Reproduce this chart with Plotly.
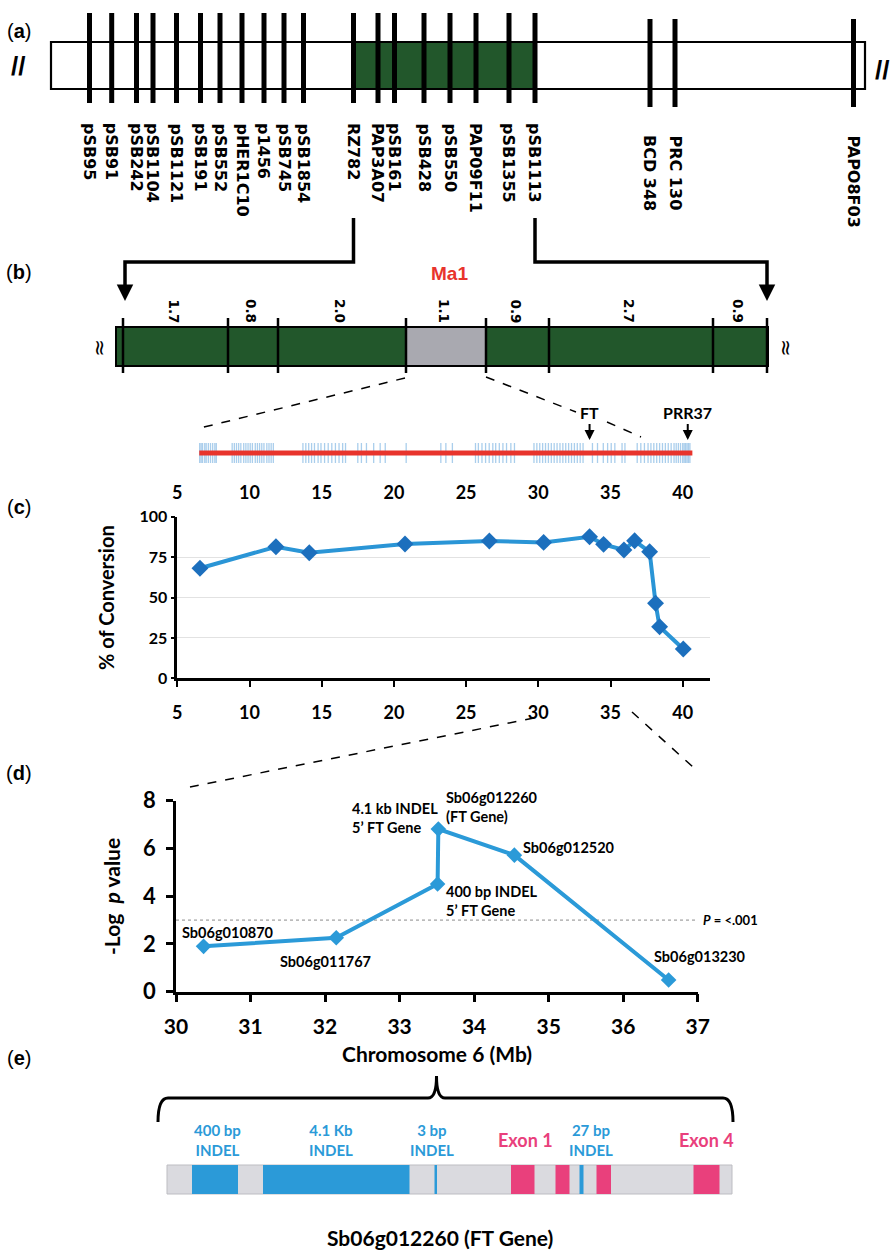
import plotly.graph_objects as go

W, H = 894, 1253

# ---------------- data ----------------
# (a) marker map (positions along the drawn linkage map)
A_MARKERS = ["pSB95", "pSB91", "pSB242", "pSB1104", "pSB1121", "pSB191", "pSB552",
             "pHER1C10", "p1456", "pSB745", "pSB1854", "RZ782", "PAP3A07", "pSB161",
             "pSB428", "pSB550", "PAP09F11", "pSB1355", "pSB1113", "BCD 348", "PRC 130",
             "PAPO8F03"]
A_POS = [89.5, 111.7, 136.5, 153, 176.5, 200.5, 220, 242, 264, 284, 303.5,
         353.5, 378, 394.5, 424, 450, 476, 509, 535, 650, 675, 853.5]

# (b) fine map: interval distances (cM) and boundary positions
B_DIST = ["1.7", "0.8", "2.0", "1.1", "0.9", "2.7", "0.9"]
B_BOUNDS = [123, 228, 278, 406, 486, 549, 713, 767]
MA1_INTERVAL = 3  # index of grey interval

# (b) physical track: gene/marker positions (Mb)
TRACK_START, TRACK_END = 6.52, 40.67
TRACK_TICKS = [6.55, 6.65, 6.75, 6.9, 7.0, 7.15, 7.3, 7.45, 7.6, 7.7,
               8.8, 8.95, 9.1, 9.25, 9.4, 9.6, 9.75, 9.9, 10.05, 10.2, 10.4, 10.55,
               10.7, 10.85, 11.0, 11.2, 11.35, 11.5, 11.65,
               13.7, 13.9, 14.1, 14.3, 14.5, 14.75, 14.95, 15.2, 15.45, 15.7,
               15.95, 16.2, 16.45, 16.65, 17.5, 17.75, 18.1, 18.6, 19.05, 19.4, 20.85,
               23.25, 23.6, 24.05,
               25.65, 25.85, 26.1, 26.35, 26.6, 26.85, 27.05, 27.3, 27.55, 27.8, 28.1, 28.35,
               29.7, 29.9, 30.1, 30.3, 30.5, 30.7, 30.9, 31.1, 31.3, 31.5, 31.7, 31.9,
               32.1, 32.3, 32.5, 32.7, 32.9, 33.1, 33.75, 34.1,
               34.5, 34.8, 35.05, 35.3, 35.8, 36.0,
               36.85, 37.1, 37.35, 37.6, 37.8, 38.0, 38.2, 38.4, 38.6, 38.8, 39.0, 39.2,
               39.4, 39.55, 39.7, 39.85, 40.0, 40.1, 40.2, 40.3, 40.4, 40.5]
FT_POS, PRR37_POS = 33.55, 40.35
TRACK_TICKVALS = [5, 10, 15, 20, 25, 30, 35, 40]

# (c) % of conversion along chromosome 6 (Mb)
C_X = [6.57, 11.83, 14.14, 20.77, 26.61, 30.37, 33.55, 34.52, 35.93, 36.67, 37.71, 38.12, 38.40, 40.04]
C_Y = [68.1, 81.4, 77.7, 83.1, 85.0, 84.1, 87.6, 82.9, 79.4, 85.1, 78.3, 46.4, 31.9, 18.1]
C_YTICKS = [0, 25, 50, 75, 100]

# (d) association -log p
D_X = [30.37, 32.15, 33.51, 33.52, 34.54, 36.61]
D_Y = [1.90, 2.26, 4.51, 6.81, 5.72, 0.49]
D_LABELS = ["Sb06g010870", "Sb06g011767", "400 bp INDEL<br>5’ FT Gene",
            "4.1 kb INDEL<br>5’ FT Gene", "Sb06g012520", "Sb06g013230"]
D_LABEL_POS = [(30.05, 2.46), (31.37, 1.28), (33.59, 3.82), (32.33, 7.27), (34.63, 6.03), (36.39, 1.46)]
D_GENE_LABEL = "Sb06g012260<br>(FT Gene)"
D_GENE_LABEL_POS = (33.59, 7.73)
D_THRESHOLD = 3.0
D_THRESHOLD_LABEL = "<i>P</i> = &lt;.001"

# (e) FT gene structure (drawn positions)
E_GENE = (167, 732)
E_INDELS = [(192, 238), (263, 409.5), (434.5, 437), (579.5, 583.5)]
E_INDEL_LABELS = ["400 bp<br>INDEL", "4.1 Kb<br>INDEL", "3 bp<br>INDEL", "27 bp<br>INDEL"]
E_INDEL_LABEL_X = [217, 331, 432, 591]
E_EXONS = [(511, 534.5), (555.5, 569.5), (596.5, 611), (693.5, 719.5)]
E_EXON_LABELS = {0: "Exon 1", 3: "Exon 4"}
E_EXON_LABEL_X = {0: 525, 3: 706}

# ---------------- styles ----------------
GREEN = "#22572b"
GREY = "#a9a9b0"
RED = "#e8342c"
LBLUE = "#2b9ad8"
CBLUE_LINE = "#2a95d6"
CBLUE_MARK = "#1c6fbd"
PINK = "#e9407c"
F_CAL = "Lato, 'Open Sans', sans-serif"
F_VER = "DejaVu Sans, Verdana, sans-serif"
F_ARI = "Liberation Sans, Arial, sans-serif"


def dx(px):
    return px / W


def dy(py):
    return 1 - py / H


def segs(x0s, y0s, x1s, y1s):
    X, Y = [], []
    for a, b, c, d in zip(x0s, y0s, x1s, y1s):
        X += [a, c, None]
        Y += [b, d, None]
    return X, Y


fig = go.Figure()
shapes = []
ann = []

# panel letters
for letter, py in zip("abcde", [31, 272, 507, 773, 1058]):
    ann.append(dict(x=19, y=py, xref="x", yref="y", text=f"(<b>{letter}</b>)", showarrow=False,
                    font=dict(family=F_ARI, size=20, color="black")))

# ---------------- (a) ----------------
BOX = dict(x0=51, x1=865, y0=42, y1=89)
shapes.append(dict(type="rect", xref="x", yref="y", **BOX, fillcolor="white", line=dict(width=0), layer="below"))
shapes.append(dict(type="rect", xref="x", yref="y", x0=A_POS[11], x1=A_POS[18], y0=BOX["y0"], y1=BOX["y1"],
                   fillcolor=GREEN, line=dict(width=0), layer="below"))
shapes.append(dict(type="rect", xref="x", yref="y", **BOX, line=dict(color="black", width=2.2), layer="below"))
tops = [13 if i < 19 else 19 for i in range(len(A_POS))]
bots = [103 if i < 19 else 107 for i in range(len(A_POS))]
X, Y = segs(A_POS, tops, A_POS, bots)
fig.add_trace(go.Scatter(x=X, y=Y, mode="lines", line=dict(color="black", width=5),
                         xaxis="x", yaxis="y", hoverinfo="skip", showlegend=False))
for i, (name, p) in enumerate(zip(A_MARKERS, A_POS)):
    ann.append(dict(x=p, y=121 if i < 19 else 133, xref="x", yref="y", text=name, textangle=90,
                    showarrow=False, xanchor="center", yanchor="top",
                    font=dict(family=F_VER, size=16, color="black", weight="bold")))
for txt, px, py in [("//", 18, 66), ("//", 882, 70)]:
    ann.append(dict(x=px, y=py, xref="x", yref="y", text=txt, showarrow=False,
                    font=dict(family=F_ARI, size=26, color="black", weight="bold")))

# bracket (a) -> (b)
for top_x, bot_x in [(A_POS[11], B_BOUNDS[0] + 2), (A_POS[18], B_BOUNDS[-1])]:
    shapes.append(dict(type="path", xref="x", yref="y",
                       path=f"M {top_x},218 V 262 H {bot_x} V 290",
                       line=dict(color="black", width=3.5)))
    ann.append(dict(x=bot_x, y=301, ax=bot_x, ay=287, xref="x", yref="y", axref="x", ayref="y",
                    text="", showarrow=True, arrowhead=2, arrowsize=1.1, arrowwidth=3, arrowcolor="black"))

# ---------------- (b) ----------------
BAR = dict(x0=116, x1=768, y0=327, y1=366)
shapes.append(dict(type="rect", xref="x", yref="y", **BAR, fillcolor=GREEN, line=dict(width=0), layer="below"))
shapes.append(dict(type="rect", xref="x", yref="y", x0=B_BOUNDS[MA1_INTERVAL], x1=B_BOUNDS[MA1_INTERVAL + 1],
                   y0=BAR["y0"], y1=BAR["y1"], fillcolor=GREY, line=dict(width=0), layer="below"))
shapes.append(dict(type="rect", xref="x", yref="y", **BAR, line=dict(color="black", width=2), layer="below"))
X, Y = segs(B_BOUNDS, [318] * len(B_BOUNDS), B_BOUNDS, [373] * len(B_BOUNDS))
fig.add_trace(go.Scatter(x=X, y=Y, mode="lines", line=dict(color="black", width=2.5),
                         xaxis="x", yaxis="y", hoverinfo="skip", showlegend=False))
for i, d in enumerate(B_DIST):
    mid = (B_BOUNDS[i] + B_BOUNDS[i + 1]) / 2 - 2
    ann.append(dict(x=mid, y=311, xref="x", yref="y", text=d, textangle=90, showarrow=False,
                    font=dict(family=F_VER, size=13.5, color="black", weight="bold")))
ann.append(dict(x=449, y=273, xref="x", yref="y", text="Ma1", showarrow=False,
                font=dict(family=F_ARI, size=19, color=RED, weight="bold")))
for px in [100, 786]:
    ann.append(dict(x=px, y=348, xref="x", yref="y", text="≈", textangle=90, showarrow=False,
                    font=dict(family=F_VER, size=21, color="black")))
# dashed zoom lines
for (x0, y0, x1, y1) in [(405, 378, 200, 428), (486, 377, 576, 412), (607, 422, 641, 437),
                          (534, 718, 190, 787), (632, 712, 693, 767)]:
    shapes.append(dict(type="line", xref="x", yref="y", x0=x0, y0=y0, x1=x1, y1=y1,
                       line=dict(color="black", width=1.5, dash="dash")))

# physical track
X, Y = segs(TRACK_TICKS, [0.34] * len(TRACK_TICKS), TRACK_TICKS, [0.74] * len(TRACK_TICKS))
fig.add_trace(go.Scatter(x=X, y=Y, mode="lines", line=dict(color="rgba(100,165,220,0.55)", width=1.3),
                         xaxis="x4", yaxis="y4", hoverinfo="skip", showlegend=False))
fig.add_trace(go.Scatter(x=[TRACK_START, TRACK_END], y=[0.54, 0.54], mode="lines",
                         line=dict(color=RED, width=5), xaxis="x4", yaxis="y4",
                         hoverinfo="skip", showlegend=False))
for txt, p in [("FT", FT_POS), ("PRR37", PRR37_POS)]:
    ann.append(dict(x=p, y=0.8, xref="x4", yref="y4", text=txt, showarrow=True, ax=0, ay=-27,
                    arrowhead=2, arrowsize=1, arrowwidth=2, arrowcolor="black", standoff=0,
                    font=dict(family=F_CAL, size=16, color="black", weight="bold")))

# ---------------- (c) ----------------
fig.add_trace(go.Scatter(x=C_X, y=C_Y, mode="lines+markers", xaxis="x2", yaxis="y2",
                         line=dict(color=CBLUE_LINE, width=4),
                         marker=dict(symbol="diamond", size=13, color=CBLUE_MARK),
                         cliponaxis=False, showlegend=False))
ann.append(dict(x=106, y=598, xref="x", yref="y", text="% of Conversion", textangle=-90, showarrow=False,
                font=dict(family=F_CAL, size=20, color="black", weight="bold")))

# ---------------- (d) ----------------
fig.add_trace(go.Scatter(x=[30, 37], y=[D_THRESHOLD, D_THRESHOLD], mode="lines", xaxis="x3", yaxis="y3",
                         line=dict(color="#8a8a8a", width=1, dash="dot"), hoverinfo="skip", showlegend=False))
fig.add_trace(go.Scatter(x=D_X, y=D_Y, mode="lines+markers", xaxis="x3", yaxis="y3",
                         line=dict(color=LBLUE, width=4),
                         marker=dict(symbol="diamond", size=12, color=LBLUE),
                         cliponaxis=False, showlegend=False))
for txt, (lx, ly) in list(zip(D_LABELS, D_LABEL_POS)) + [(D_GENE_LABEL, D_GENE_LABEL_POS)]:
    ann.append(dict(x=lx, y=ly, xref="x3", yref="y3", text=txt, showarrow=False, xanchor="left",
                    align="left", font=dict(family=F_CAL, size=14.5, color="black", weight="bold")))
ann.append(dict(x=1.006, y=D_THRESHOLD, xref="x3 domain", yref="y3", text=D_THRESHOLD_LABEL, showarrow=False,
                xanchor="left", font=dict(family=F_CAL, size=13, color="black", weight="bold")))
ann.append(dict(x=111, y=897, xref="x", yref="y", text="-Log  <i>p</i> value", textangle=-90, showarrow=False,
                font=dict(family=F_CAL, size=21, color="black", weight="bold")))
ann.append(dict(x=437, y=1053, xref="x", yref="y", text="Chromosome 6 (Mb)", showarrow=False,
                font=dict(family=F_CAL, size=21, color="black", weight="bold")))

# ---------------- (e) ----------------
shapes.append(dict(type="path", xref="x", yref="y",
                   path="M 158,1122 Q 158,1098 168,1098 L 428,1098 Q 436.5,1098 436.5,1076 "
                        "Q 436.5,1098 445,1098 L 723,1098 Q 733,1098 733,1122",
                   line=dict(color="black", width=3)))
shapes.append(dict(type="rect", xref="x", yref="y", x0=E_GENE[0], x1=E_GENE[1], y0=1165, y1=1194,
                   fillcolor="#dadadf", line=dict(color="#bdbdc2", width=1), layer="below"))
for a, b in E_INDELS:
    shapes.append(dict(type="rect", xref="x", yref="y", x0=a, x1=b, y0=1165, y1=1194,
                       fillcolor=LBLUE, line=dict(width=0)))
for a, b in E_EXONS:
    shapes.append(dict(type="rect", xref="x", yref="y", x0=a, x1=b, y0=1165, y1=1194,
                       fillcolor=PINK, line=dict(width=0)))
for txt, px in zip(E_INDEL_LABELS, E_INDEL_LABEL_X):
    ann.append(dict(x=px, y=1140, xref="x", yref="y", text=txt, showarrow=False,
                    font=dict(family=F_CAL, size=15, color=LBLUE, weight="bold")))
for k, txt in E_EXON_LABELS.items():
    ann.append(dict(x=E_EXON_LABEL_X[k], y=1140, xref="x", yref="y", text=txt, showarrow=False,
                    font=dict(family=F_CAL, size=18, color=PINK, weight="bold")))
ann.append(dict(x=440, y=1237, xref="x", yref="y", text="Sb06g012260 (FT Gene)", showarrow=False,
                font=dict(family=F_CAL, size=21, color="black", weight="bold")))

# ---------------- layout ----------------
hidden = dict(visible=False, fixedrange=True, showgrid=False, zeroline=False)
C_XDOM = [dx(177.3), dx(710)]
C_XRANGE = [5, 5 + (710 - 177.3) / 14.44]
tickfont_c = dict(family=F_CAL, size=18, color="black", weight="bold")

fig.update_layout(
    width=W, height=H, margin=dict(l=0, r=0, t=0, b=0, autoexpand=False),
    paper_bgcolor="white", plot_bgcolor="rgba(0,0,0,0)",
    showlegend=False,
    xaxis=dict(domain=[0, 1], range=[0, W], anchor="y", **hidden),
    yaxis=dict(domain=[0, 1], range=[H, 0], anchor="x", **hidden),
    xaxis4=dict(domain=C_XDOM, range=C_XRANGE, anchor="y4", showline=False, ticks="",
                tickvals=TRACK_TICKVALS, tickfont=tickfont_c, showgrid=False, zeroline=False,
                ticklabelstandoff=0, fixedrange=True),
    yaxis4=dict(domain=[dy(480), dy(430)], range=[0, 1], anchor="x4", **hidden),
    xaxis2=dict(domain=C_XDOM, range=C_XRANGE, anchor="y2", showline=True, linecolor="black", linewidth=2.5,
                ticks="outside", ticklen=6, tickwidth=2, tickcolor="black", tickvals=TRACK_TICKVALS,
                tickfont=tickfont_c, showgrid=False, zeroline=False, ticklabelstandoff=10, fixedrange=True),
    yaxis2=dict(domain=[dy(678.3), dy(516.7)], range=[0, 100], anchor="x2", showline=True, linecolor="black",
                linewidth=2.5, ticks="outside", ticklen=4, tickwidth=2, tickcolor="black", tickvals=C_YTICKS,
                tickfont=dict(family=F_CAL, size=16, color="black", weight="bold"),
                showgrid=True, gridcolor="#e2e2e2", gridwidth=1.2, zeroline=False, fixedrange=True),
    xaxis3=dict(domain=[dx(176), dx(697.7)], range=[30, 37], anchor="y3", dtick=1, showline=True,
                linecolor="black", linewidth=2.5, ticks="outside", ticklen=8, tickwidth=2.5, tickcolor="black",
                tickfont=dict(family=F_CAL, size=21, color="black", weight="bold"),
                showgrid=False, zeroline=False, ticklabelstandoff=6, fixedrange=True),
    yaxis3=dict(domain=[dy(991.7), dy(800.7)], range=[0, 8], anchor="x3", dtick=2, showline=True,
                linecolor="black", linewidth=2.5, ticks="outside", ticklen=7, tickwidth=2.5, tickcolor="black",
                tickfont=dict(family=F_CAL, size=22, color="black", weight="bold"),
                showgrid=False, zeroline=False, ticklabelstandoff=6, fixedrange=True),
    shapes=shapes,
    annotations=ann,
)

fig.write_html("out.html", config={"displayModeBar": False},
               post_script="document.body.style.margin='0px';document.body.style.overflow='hidden';")
